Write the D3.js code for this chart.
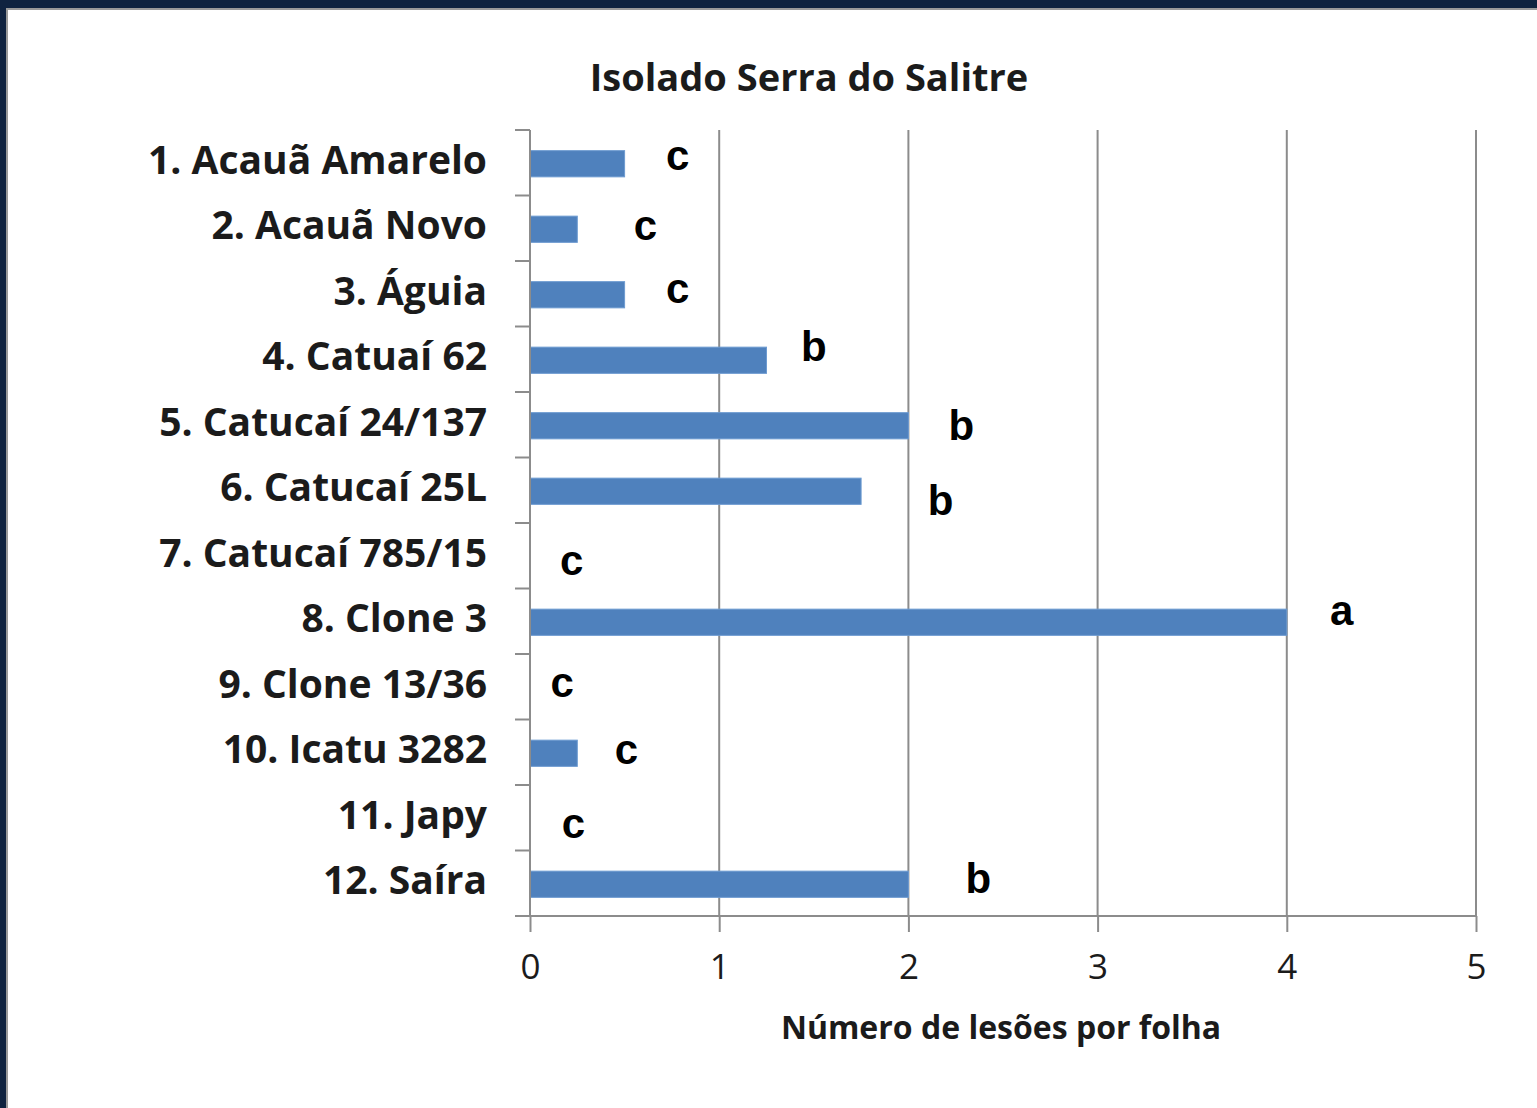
<!DOCTYPE html>
<html>
<head>
<meta charset="utf-8">
<script src="https://d3js.org/d3.v7.min.js"></script>
<style>
body{margin:0;background:#0f2340;}
svg{display:block;}
.cat{font-family:"Open Sans",Lato,sans-serif;font-weight:bold;fill:#1b1b1b;}
.title{font-family:"Open Sans",Lato,sans-serif;font-weight:bold;fill:#1b1b1b;}
.tick text{font-family:"Open Sans",Lato,sans-serif;fill:#1b1b1b;}
.letter{font-family:"Liberation Sans",Arial,sans-serif;font-weight:bold;fill:#000;}
</style>
</head>
<body>
<svg id="chart"></svg>
<script>
// data
var cultivars = ["1. Acauã Amarelo","2. Acauã Novo","3. Águia","4. Catuaí 62",
    "5. Catucaí 24/137","6. Catucaí 25L","7. Catucaí 785/15","8. Clone 3",
    "9. Clone 13/36","10. Icatu 3282","11. Japy","12. Saíra"]
var lesoes = [0.5,0.25,0.5,1.25,2,1.75,0,4,0,0.25,0,2]
var letras = ["c","c","c","b","b","b","c","a","c","c","c","b"]
// where each letter sits (x in data units, baseline shift in px from band centre)
var letraX = [0.78,0.61,0.78,1.50,2.28,2.17,0.22,4.29,0.17,0.51,0.23,2.37]
var letraDy = [7,12,9,2,15,25,19,4,10,12,20,10]
var xTicks = [0,1,2,3,4,5]

var screen = {width:1537,height:1108}
var margins = {left:530,right:61,top:130,bottom:192}
var graph = {
    width:screen.width-margins.left-margins.right,
    height:screen.height-margins.top-margins.bottom
}

var svg = d3.select("#chart")
    .attr("width",screen.width)
    .attr("height",screen.height)

// frame: navy edge + white panel
svg.append("rect").attr("width",screen.width).attr("height",screen.height).attr("fill","#0f2340")
svg.append("rect").attr("x",6).attr("y",8).attr("width",screen.width-6).attr("height",screen.height-8).attr("fill","#9a9a9a")
svg.append("rect").attr("x",8).attr("y",10).attr("width",screen.width-8).attr("height",screen.height-10).attr("fill","#ffffff")

var xScale = d3.scaleLinear()
    .domain([0,5])
    .range([0,graph.width])
var yScale = d3.scaleBand()
    .domain(cultivars)
    .range([0,graph.height])
    .padding(0)

var target = svg.append("g")
    .attr("transform","translate("+margins.left+","+margins.top+")")

// vertical gridlines
target.append("g").selectAll("line")
    .data(xTicks.slice(1))
    .enter()
    .append("line")
    .attr("x1",function(d){return xScale(d)})
    .attr("x2",function(d){return xScale(d)})
    .attr("y1",0)
    .attr("y2",graph.height)
    .attr("stroke","#8c8c8c")
    .attr("stroke-width",2)

// bars
var barH = yScale.bandwidth()*0.4
target.append("g").selectAll("rect")
    .data(lesoes)
    .enter()
    .append("rect")
    .attr("x",0)
    .attr("y",function(d,i){return yScale(cultivars[i])+yScale.bandwidth()/2-barH/2+1})
    .attr("width",function(d){return xScale(d)})
    .attr("height",barH)
    .attr("fill","#4f81bd")
    .attr("stroke","#6d9bd1")
    .attr("stroke-width",1)

// x axis
var xAxis = d3.axisBottom(xScale)
    .tickValues(xTicks)
    .tickSize(16)
    .tickFormat(d3.format("d"))
var gx = target.append("g")
    .attr("transform","translate(0,"+graph.height+")")
    .call(xAxis)
gx.select(".domain").remove()
gx.append("line")
    .attr("x1",-15).attr("x2",graph.width)
    .attr("stroke","#8c8c8c").attr("stroke-width",2)
gx.selectAll(".tick line").attr("stroke","#8c8c8c").attr("stroke-width",2)
gx.selectAll(".tick text")
    .attr("y",63)
    .attr("dy",0)
    .attr("font-size",35)
    .attr("fill","#1b1b1b")

// y axis line + band ticks
target.append("line")
    .attr("x1",0).attr("x2",0)
    .attr("y1",0).attr("y2",graph.height)
    .attr("stroke","#8c8c8c").attr("stroke-width",2)
target.append("g").selectAll("line")
    .data(cultivars)
    .enter()
    .append("line")
    .attr("x1",-15).attr("x2",0)
    .attr("y1",function(d){return yScale(d)})
    .attr("y2",function(d){return yScale(d)})
    .attr("stroke","#8c8c8c").attr("stroke-width",2)

// category labels
target.append("g").selectAll("text")
    .data(cultivars)
    .enter()
    .append("text")
    .classed("cat",true)
    .attr("x",-43)
    .attr("y",function(d){return yScale(d)+yScale.bandwidth()/2+11})
    .attr("text-anchor","end")
    .attr("font-size",39)
    .text(function(d){return d})

// significance letters
target.append("g").selectAll("text")
    .data(letras)
    .enter()
    .append("text")
    .classed("letter",true)
    .attr("x",function(d,i){return xScale(letraX[i])})
    .attr("y",function(d,i){return yScale(cultivars[i])+yScale.bandwidth()/2+letraDy[i]})
    .attr("text-anchor","middle")
    .attr("font-size",42)
    .text(function(d){return d})

// titles
svg.append("text")
    .classed("title",true)
    .attr("x",809)
    .attr("y",91)
    .attr("text-anchor","middle")
    .attr("font-size",38)
    .text("Isolado Serra do Salitre")

svg.append("text")
    .classed("title",true)
    .attr("x",1001)
    .attr("y",1039)
    .attr("text-anchor","middle")
    .attr("font-size",32)
    .text("Número de lesões por folha")
</script>
</body>
</html>
